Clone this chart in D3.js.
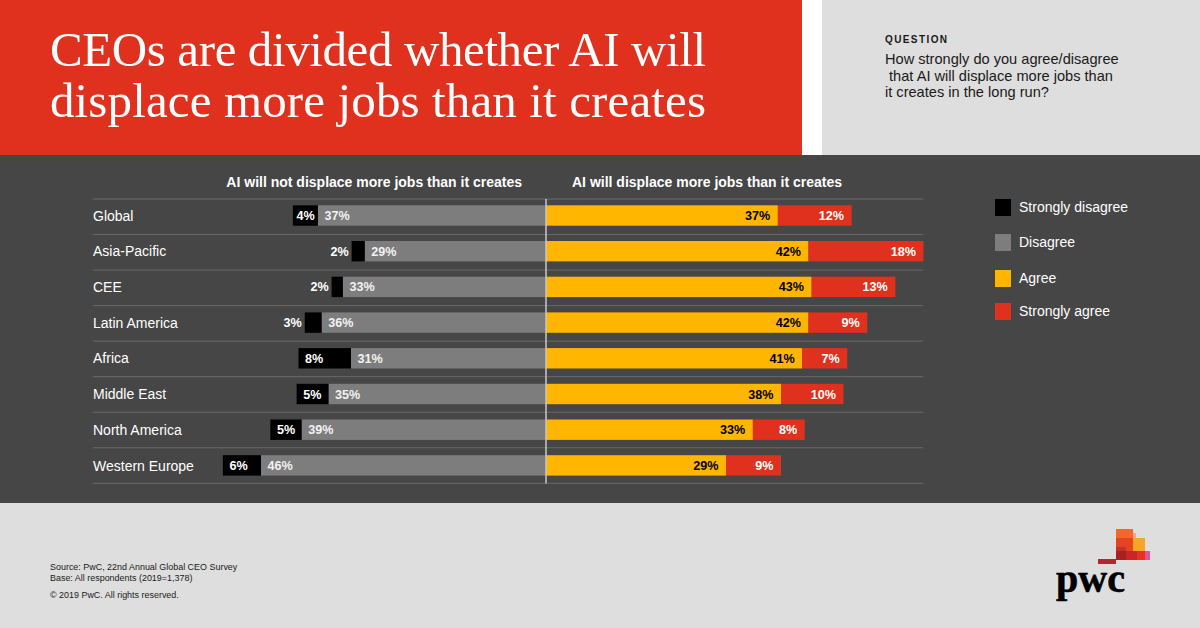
<!DOCTYPE html>
<html>
<head>
<meta charset="utf-8">
<script src="https://cdn.jsdelivr.net/npm/d3@7"></script>
<style>
html, body { margin: 0; padding: 0; background: #dedede; }
svg { display: block; }
text { font-family: "Liberation Sans", Arial, sans-serif; }
</style>
</head>
<body>
<svg id="chart" width="1200" height="628"></svg>
<script>
// bar lengths, the printed labels are these values rounded
var regions = ["Global", "Asia-Pacific", "CEE", "Latin America", "Africa", "Middle East", "North America", "Western Europe"];
var stronglyDisagree = [4.0, 2.1, 1.8, 2.7, 8.4, 5.1, 5.0, 6.1];
var disagree = [36.5, 29.0, 32.5, 35.9, 31.2, 34.8, 39.1, 45.6];
var agree = [37.1, 42.0, 42.5, 42.0, 41.0, 37.6, 33.1, 28.8];
var stronglyAgree = [11.8, 18.4, 13.4, 9.4, 7.2, 10.0, 8.3, 8.8];
var legendLabels = ["Strongly disagree", "Disagree", "Agree", "Strongly agree"];
var legendColors = ["#000000", "#7d7d7d", "#ffb600", "#e0301e"];
var titleLines = ["CEOs are divided whether AI will", "displace more jobs than it creates"];
var questionLines = ["How strongly do you agree/disagree", "\u00a0that AI will displace more jobs than", "it creates in the long run?"];
var sourceLines = ["Source: PwC, 22nd Annual Global CEO Survey", "Base: All respondents (2019=1,378)"];

var svg = d3.select("#chart");

// page blocks
svg.append("rect").attr("width", 802).attr("height", 155).attr("fill", "#e0301e");
svg.append("rect").attr("x", 802).attr("width", 20).attr("height", 155).attr("fill", "#ffffff");
svg.append("rect").attr("y", 155).attr("width", 1200).attr("height", 348).attr("fill", "#464646");

svg.selectAll(".title").data(titleLines).enter().append("text")
    .attr("class", "title")
    .attr("x", 50)
    .attr("y", function (d, i) { return 66 + i * 51; })
    .attr("textLength", 656)
    .attr("lengthAdjust", "spacing")
    .attr("fill", "#ffffff")
    .style("font-family", "'Liberation Serif', serif")
    .style("font-size", "49px")
    .text(function (d) { return d; });

svg.append("text").attr("x", 885).attr("y", 43)
    .attr("fill", "#1a1a1a")
    .style("font-size", "10px").style("font-weight", "bold").style("letter-spacing", "1.4px")
    .text("QUESTION");
svg.selectAll(".question").data(questionLines).enter().append("text")
    .attr("class", "question")
    .attr("x", 885)
    .attr("y", function (d, i) { return 64 + i * 16.5; })
    .attr("fill", "#1a1a1a")
    .style("font-size", "14.6px")
    .text(function (d) { return d; });

// scales: the zero line sits between the two sides
var x = d3.scaleLinear().domain([0, 60]).range([546, 921]);
var y = d3.scaleBand().domain(regions).range([199, 484.6]);
var gridY = d3.scaleLinear().domain([0, regions.length]).range([199, 483.3]);
var barHeight = 20.4;
var barY = function (i) { return y(regions[i]) + 6.3; };
var left = function (v) { return 2 * x(0) - x(v); };
var pct = function (v) { return Math.abs(x(v) - x(0)); };

// grid lines
svg.selectAll(".grid").data(d3.range(regions.length + 1)).enter().append("line")
    .attr("class", "grid")
    .attr("x1", 93).attr("x2", 923)
    .attr("y1", function (d) { return gridY(d); })
    .attr("y2", function (d) { return gridY(d); })
    .attr("stroke", "#6a6a6a").attr("stroke-width", 1);

// category axis, labels flushed left
var yAxis = svg.append("g")
    .attr("transform", "translate(93,-0.7)")
    .call(d3.axisLeft(y).tickSize(0).tickPadding(0));
yAxis.select(".domain").remove();
yAxis.selectAll("text")
    .attr("text-anchor", "start")
    .attr("fill", "#ffffff")
    .style("font-size", "14px")
    .style("font-family", "'Liberation Sans', Arial, sans-serif");

svg.append("text").attr("x", 522).attr("y", 187).attr("text-anchor", "end")
    .attr("fill", "#ffffff").style("font-size", "14px").style("font-weight", "bold")
    .text("AI will not displace more jobs than it creates");
svg.append("text").attr("x", 572).attr("y", 187)
    .attr("fill", "#ffffff").style("font-size", "14px").style("font-weight", "bold")
    .text("AI will displace more jobs than it creates");

// bars
function drawBars(name, color, xOf, widthOf) {
    svg.selectAll("." + name).data(regions).enter().append("rect")
        .attr("class", name)
        .attr("x", function (d, i) { return xOf(i); })
        .attr("y", function (d, i) { return barY(i); })
        .attr("width", function (d, i) { return widthOf(i); })
        .attr("height", barHeight)
        .attr("fill", color);
}
drawBars("disagree", legendColors[1], function (i) { return left(disagree[i]); }, function (i) { return pct(disagree[i]); });
drawBars("strongly-disagree", legendColors[0], function (i) { return left(disagree[i] + stronglyDisagree[i]); }, function (i) { return pct(stronglyDisagree[i]); });
drawBars("agree", legendColors[2], function (i) { return x(0); }, function (i) { return pct(agree[i]); });
drawBars("strongly-agree", legendColors[3], function (i) { return x(agree[i]); }, function (i) { return pct(stronglyAgree[i]); });

// centre line
svg.append("line").attr("x1", x(0)).attr("x2", x(0)).attr("y1", 199).attr("y2", 483.5)
    .attr("stroke", "#c8c8c8").attr("stroke-width", 1.5);

// value labels
var label = function (d) { return Math.round(d) + "%"; };
function drawLabels(name, values, color, xOf, anchorOf) {
    svg.selectAll("." + name).data(values).enter().append("text")
        .attr("class", name)
        .attr("x", function (d, i) { return xOf(d, i); })
        .attr("y", function (d, i) { return barY(i) + barHeight / 2 + 4.5; })
        .attr("text-anchor", anchorOf)
        .attr("fill", color)
        .style("font-size", "12.6px").style("font-weight", "bold")
        .text(label);
}
drawLabels("lab-dis", disagree, "#f2f2f2", function (d) { return left(d) + 6.5; }, "start");
drawLabels("lab-agree", agree, "#000000", function (d) { return x(d) - 7.6; }, "end");
drawLabels("lab-sagree", stronglyAgree, "#ffffff", function (d, i) { return x(agree[i] + d) - 7.6; }, "end");
// strongly disagree: inside the bar when it fits, else just outside
drawLabels("lab-sdis", stronglyDisagree, "#ffffff", function (d, i) {
    var start = left(disagree[i] + d);
    return d < 3.5 ? start - 3 : start + Math.min(6.5, (pct(d) - 18) / 2);
}, function (d) { return d < 3.5 ? "end" : "start"; });

// legend
var legendY = d3.scaleOrdinal(legendLabels, [199, 234, 270, 303]);
var legend = svg.selectAll(".legend").data(legendLabels).enter().append("g")
    .attr("class", "legend")
    .attr("transform", function (d) { return "translate(995," + legendY(d) + ")"; });
legend.append("rect").attr("width", 16).attr("height", 17)
    .attr("fill", function (d, i) { return legendColors[i]; });
legend.append("text").attr("x", 24).attr("y", 13)
    .attr("fill", "#ffffff").style("font-size", "14px")
    .text(function (d) { return d; });

// footer
svg.selectAll(".source").data(sourceLines).enter().append("text")
    .attr("class", "source")
    .attr("x", 50)
    .attr("y", function (d, i) { return 570 + i * 11; })
    .attr("fill", "#1a1a1a").style("font-size", "8.95px")
    .text(function (d) { return d; });
svg.append("text").attr("x", 50).attr("y", 598)
    .attr("fill", "#1a1a1a").style("font-size", "8.95px")
    .text("\u00a9 2019 PwC. All rights reserved.");

// logo
var logoRects = [
    [1098, 559, 18, 5, "#b5272c"],
    [1116, 529, 17, 9, "#f4672c"],
    [1133, 533, 3, 5, "#f7a98a"],
    [1133, 538, 12, 13, "#f5a623"],
    [1116, 538, 17, 13, "#e4441f"],
    [1116, 547, 10, 4, "#c8302a"],
    [1116, 551, 10, 9, "#a8201f"],
    [1126, 551, 11, 9, "#c9252b"],
    [1137, 551, 8, 9, "#e8321f"],
    [1145, 551, 5, 9, "#e8509a"]
];
svg.selectAll(".logo").data(logoRects).enter().append("rect")
    .attr("class", "logo")
    .attr("x", function (d) { return d[0]; })
    .attr("y", function (d) { return d[1]; })
    .attr("width", function (d) { return d[2]; })
    .attr("height", function (d) { return d[3]; })
    .attr("fill", function (d) { return d[4]; });
svg.append("text").attr("x", 1056).attr("y", 592)
    .attr("fill", "#000000").attr("stroke", "#000000").attr("stroke-width", 0.6)
    .style("font-family", "'Liberation Serif', serif")
    .style("font-size", "40px").style("font-weight", "bold")
    .text("pwc");
</script>
</body>
</html>
